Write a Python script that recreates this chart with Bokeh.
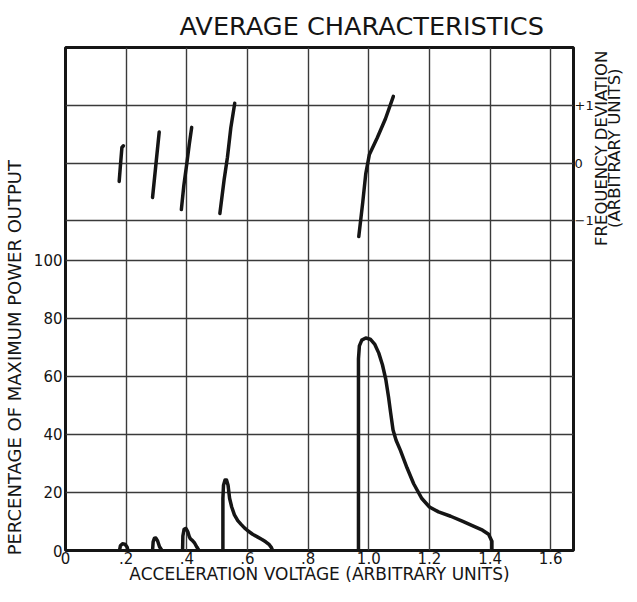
from bokeh.plotting import figure
from bokeh.models import Range1d, LinearAxis, FixedTicker, Div
from bokeh.layouts import row
from bokeh.embed import file_html
from bokeh.resources import INLINE

# ---------------- data ----------------
x_ticks = [0, 0.2, 0.4, 0.6, 0.8, 1.0, 1.2, 1.4, 1.6]
x_tick_labels = ["0", ".2", ".4", ".6", ".8", "1.0", "1.2", "1.4", "1.6"]
power_ticks = [0, 20, 40, 60, 80, 100]
freq_ticks = [-1, 0, 1]
freq_tick_labels = ["\u22121", "0", "+1"]

# power output (percent of maximum) vs acceleration voltage
pw1_v = [0.178, 0.181, 0.188, 0.196, 0.203, 0.206]
pw1_pct = [0, 1.6, 2.3, 2.2, 1.2, 0]
pw2_v = [0.287, 0.289, 0.293, 0.298, 0.304, 0.310, 0.318]
pw2_pct = [0, 3.0, 4.2, 4.3, 3.2, 1.3, 0]
pw3_v = [0.386, 0.387, 0.391, 0.397, 0.403, 0.408, 0.412, 0.418, 0.426, 0.433, 0.440]
pw3_pct = [0, 5.0, 7.3, 7.6, 6.5, 4.8, 4.0, 3.5, 2.5, 1.2, 0]
pw4_v = [0.519, 0.519, 0.521, 0.526, 0.531, 0.536, 0.541, 0.548, 0.557, 0.568,
         0.579, 0.590, 0.601, 0.617, 0.634, 0.648, 0.660, 0.672, 0.679, 0.683]
pw4_pct = [0, 18, 22.5, 24.3, 24.3, 22.5, 18, 15, 12.3, 10.3,
           9.0, 7.8, 6.8, 5.6, 4.6, 3.8, 3.0, 2.0, 1.0, 0]
pw5_v = [0.966, 0.966, 0.969, 0.977, 0.990, 1.005, 1.020, 1.033, 1.045, 1.056,
         1.065, 1.072, 1.080, 1.090, 1.104, 1.126, 1.148, 1.175, 1.200, 1.230,
         1.270, 1.310, 1.345, 1.375, 1.395, 1.406, 1.406]
pw5_pct = [0, 66, 70.5, 72.5, 73.2, 72.8, 71, 68, 64, 59,
           53, 47.5, 41.5, 38, 34.6, 28.5, 23, 17.9, 15, 13.3,
           11.8, 10, 8.4, 7, 5.6, 3.2, 0]

# frequency deviation (arbitrary units) vs acceleration voltage
fd1_v = [0.177, 0.181, 0.186, 0.191]
fd1_dev = [-0.32, -0.05, 0.27, 0.30]
fd2_v = [0.287, 0.298, 0.309]
fd2_dev = [-0.60, -0.03, 0.54]
fd3_v = [0.382, 0.390, 0.400, 0.408, 0.416]
fd3_dev = [-0.81, -0.40, -0.01, 0.32, 0.62]
fd4_v = [0.509, 0.523, 0.534, 0.545, 0.558]
fd4_dev = [-0.88, -0.29, 0.10, 0.61, 1.04]
fd5_v = [0.967, 0.980, 0.990, 1.002, 1.028, 1.055, 1.081]
fd5_dev = [-1.28, -0.69, -0.19, 0.15, 0.44, 0.77, 1.16]

# where the frequency scale sits on the power scale
freq_zero = 133.5
freq_unit = 19.8

title_text = "AVERAGE CHARACTERISTICS"
x_label = "ACCELERATION VOLTAGE (ARBITRARY UNITS)"
y_label = "PERCENTAGE OF MAXIMUM POWER OUTPUT"
y2_label_1 = "FREQUENCY DEVIATION"
y2_label_2 = "(ARBITRARY UNITS)"

# ---------------- figure ----------------
FONT = "DejaVu Sans"
INK = "#151515"
GRID = "#3a3a3a"
Y_TOP = 173.3
H = 586
LEFT_W = 26
RIGHT_W = 25
FIG_W = 621 - LEFT_W - RIGHT_W

p = figure(width=FIG_W, height=H,
           x_range=Range1d(0, 1.675), y_range=Range1d(0, Y_TOP),
           output_backend="svg", toolbar_location=None,
           min_border_left=39, min_border_right=22,
           min_border_top=47, min_border_bottom=33,
           background_fill_color="white", border_fill_color="white",
           margin=(0, 0, 0, 0))

p.title.text = title_text
p.title.text_font = FONT
p.title.text_font_size = "25.6px"
p.title.text_font_style = "normal"
p.title.text_color = INK
p.title.align = "left"
p.title.offset = 114
p.title.standoff = 14

p.outline_line_color = INK
p.outline_line_width = 3

p.extra_y_ranges = {"freq": Range1d((0 - freq_zero) / freq_unit,
                                    (Y_TOP - freq_zero) / freq_unit)}

xa = p.xaxis[0]
xa.ticker = FixedTicker(ticks=x_ticks)
xa.major_label_overrides = {t: l for t, l in zip(x_ticks, x_tick_labels)}
xa.axis_label = x_label
xa.axis_label_text_font = FONT
xa.axis_label_text_font_size = "17px"
xa.axis_label_text_font_style = "normal"
xa.axis_label_text_color = INK
xa.axis_label_standoff = -3

ya = p.yaxis[0]
ya.ticker = FixedTicker(ticks=power_ticks)

ra = LinearAxis(y_range_name="freq", ticker=FixedTicker(ticks=freq_ticks),
                major_label_overrides={t: l for t, l in zip(freq_ticks, freq_tick_labels)})
p.add_layout(ra, "right")

for ax in (xa, ya, ra):
    ax.axis_line_color = None
    ax.major_tick_line_color = None
    ax.minor_tick_line_color = None
    ax.major_tick_out = 0
    ax.major_tick_in = 0
    ax.major_label_text_font = FONT
    ax.major_label_text_font_size = "15px"
    ax.major_label_text_color = INK
xa.major_label_standoff = 1
ya.major_label_standoff = 3
ra.major_label_standoff = 1
ra.major_label_text_font_size = "13px"
ra.major_label_orientation = "horizontal"

p.xgrid.ticker = FixedTicker(ticks=x_ticks[1:])
p.ygrid.ticker = FixedTicker(ticks=power_ticks[1:] + [freq_zero - freq_unit, freq_zero,
                                                      freq_zero + freq_unit])
for g in (p.xgrid, p.ygrid):
    g.grid_line_color = GRID
    g.grid_line_width = 1.4
    g.grid_line_alpha = 1.0

for xs, ys in [(pw1_v, pw1_pct), (pw2_v, pw2_pct), (pw3_v, pw3_pct),
               (pw4_v, pw4_pct), (pw5_v, pw5_pct)]:
    p.line(xs, ys, line_color=INK, line_width=3.5, line_join="round", line_cap="round")

for xs, ys in [(fd1_v, fd1_dev), (fd2_v, fd2_dev), (fd3_v, fd3_dev),
               (fd4_v, fd4_dev), (fd5_v, fd5_dev)]:
    p.line(xs, ys, y_range_name="freq", line_color=INK, line_width=3.5,
           line_join="round", line_cap="round")

# ---------------- side labels (rotated, reading bottom to top) ----------------
left_html = (
    '<div style="height:%dpx;width:%dpx;display:flex;flex-direction:column;'
    'justify-content:flex-end;align-items:flex-start;padding-bottom:31px;box-sizing:border-box;">'
    '<span style="writing-mode:vertical-rl;transform:rotate(180deg);'
    "font-family:'DejaVu Sans';font-size:18px;line-height:18px;color:%s;"
    'white-space:nowrap;margin-left:6px;">%s</span></div>' % (H, LEFT_W, INK, y_label)
)
right_html = (
    '<div style="height:%dpx;width:%dpx;padding-top:35px;box-sizing:border-box;">'
    '<div style="writing-mode:vertical-rl;transform:rotate(180deg);height:227px;'
    "margin-left:-1px;text-align:center;font-family:'DejaVu Sans';font-size:16.5px;"
    'line-height:13px;color:%s;white-space:nowrap;">%s<br>%s</div></div>'
    % (H, RIGHT_W, INK, y2_label_1, y2_label_2)
)
left_div = Div(text=left_html, width=LEFT_W, height=H, margin=(0, 0, 0, 0))
right_div = Div(text=right_html, width=RIGHT_W, height=H, margin=(0, 0, 0, 0))

layout = row(left_div, p, right_div, spacing=0)

open("out.html", "w").write(file_html(layout, INLINE))
